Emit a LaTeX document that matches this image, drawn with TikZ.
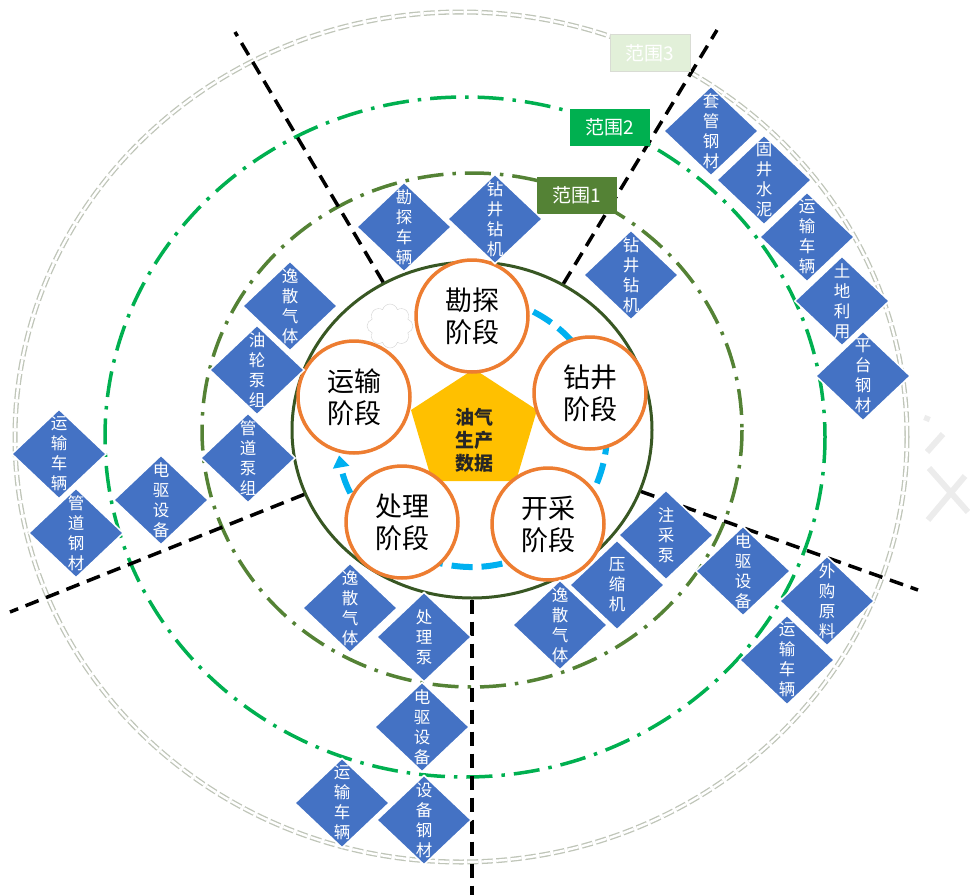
\documentclass[tikz,border=0pt]{standalone}
\usepackage{fontspec}
\setmainfont{Noto Sans CJK SC}
\usepackage{tikz}
\usetikzlibrary{shapes.geometric,shapes.symbols,arrows.meta}
\definecolor{boxblue}{HTML}{4472C4}
\definecolor{stageorange}{HTML}{ED7D31}
\definecolor{coregreen}{HTML}{385723}
\definecolor{rangeone}{HTML}{548235}
\definecolor{rangetwo}{HTML}{00B050}
\definecolor{rangethree}{HTML}{BFC5B8}
\definecolor{rangethreefill}{HTML}{E2F0D9}
\definecolor{datagold}{HTML}{FFC000}
\definecolor{flowblue}{HTML}{00B0F0}

\begin{document}
\begin{tikzpicture}[x=1pt, y=-1pt, >=Latex,
    item/.style={diamond, draw=white, line width=1.5pt, fill=boxblue, minimum width=95pt, minimum height=90pt, inner sep=0pt, label={[itemtext]center:#1}},
    itemtext/.style={text=white, align=center, font=\fontsize{16.5}{20}\selectfont},
    stage/.style={circle, draw=stageorange, line width=3.5pt, fill=white, minimum size=112pt, inner sep=0pt, align=center, font=\fontsize{27}{32}\selectfont},
    rangetag/.style={fill=#1, text=white, minimum width=80pt, minimum height=37pt, inner sep=0pt, font=\fontsize{19}{20}\selectfont},
    sepline/.style={line width=3.5pt, dash pattern=on 14pt off 8pt},
    rangeline/.style={draw=#1, line width=3.5pt, dash pattern=on 26pt off 9pt on 3.5pt off 9pt}]

    \useasboundingbox (0,0) rectangle (970,895);

    \draw[rangethree, line width=1.3pt, double=white, double distance=2.4pt, dash pattern=on 11pt off 3.5pt] (461,437) ellipse [x radius=446, y radius=425];
    \draw[rangeline=rangetwo] (465,437) ellipse [x radius=360, y radius=340];
    \draw[rangeline=rangeone] (472,430) ellipse [x radius=270, y radius=257];

    \node[ellipse, draw=coregreen, line width=3pt, fill=white, minimum width=360pt, minimum height=336pt, inner sep=0pt] (core) at (472,430) {};

    \coordinate (cutA) at (235,32);
    \coordinate (cutB) at (717,30);
    \coordinate (cutC) at (918,590);
    \coordinate (cutD) at (472,895);
    \coordinate (cutE) at (10,612);
    \draw[sepline] (core.121) -- (cutA);
    \draw[sepline] (core.58) -- (cutB);
    \draw[sepline] (core.340) -- (cutC);
    \draw[sepline] (core.270) -- (cutD);
    \draw[sepline] (core.201) -- (cutE);

    \coordinate (flowstart) at ([shift={(63:135pt)}]472,432);
    \draw[flowblue, line width=6pt, dash pattern=on 21pt off 9pt, -{Triangle[length=12pt, width=16pt]}] (flowstart) arc[start angle=63, end angle=-170, radius=135pt];

    \node[cloud, cloud puffs=8, aspect=1, draw=gray!35, fill=white, minimum width=46pt, minimum height=44pt] (puff) at (390,326) {};

    \fill[datagold] (474,369) -- (537,410) -- (516,481) -- (432,481) -- (411,410) -- cycle;
    \node[font=\fontsize{19}{23}\selectfont\bfseries, align=center, text=black!85] (data) at (474,440) {油气\\生产\\数据};

    \node[stage] (explore) at (472,316) {勘探\\阶段};
    \node[stage] (drill) at (590,393) {钻井\\阶段};
    \node[stage] (produce) at (548,524) {开采\\阶段};
    \node[stage] (process) at (402,522) {处理\\阶段};
    \node[stage] (transport) at (354,397) {运输\\阶段};

    \node[rangetag=rangeone] (tagone) at (577,195) {范围1};
    \node[rangetag=rangetwo] (tagtwo) at (610,127) {范围2};
    \node[rangetag=rangethreefill, draw=rangethree!60, line width=0.8pt] (tagthree) at (650,53) {范围3};

    \node[item={勘\\探\\车\\辆}] (exveh) at (404,227) {};
    \node[item={钻\\井\\钻\\机}] (drrigA) at (495,219) {};
    \node[item={钻\\井\\钻\\机}] (drrigB) at (631,275) {};

    \node[item={套\\管\\钢\\材}] (casing) at (711,131) {};
    \node[item={固\\井\\水\\泥}] (cement) at (764,180) {};
    \node[item={运\\输\\车\\辆}] (drveh) at (807,237) {};
    \node[item={土\\地\\利\\用}] (land) at (842,301) {};
    \node[item={平\\台\\钢\\材}] (platform) at (863,376) {};

    \node[item={注\\采\\泵}] (injpump) at (666,535) {};
    \node[item={压\\缩\\机}] (compressor) at (617,585) {};
    \node[item={逸\\散\\气\\体}] (prgas) at (560,625) {};
    \node[item={电\\驱\\设\\备}] (prmotor) at (743,571) {};
    \node[item={外\\购\\原\\料}] (purchase) at (827,601) {};
    \node[item={运\\输\\车\\辆}] (prveh) at (787,660) {};

    \node[item={逸\\散\\气\\体}] (pcgas) at (350,608) {};
    \node[item={处\\理\\泵}] (pcpump) at (424,637) {};
    \node[item={电\\驱\\设\\备}] (pcmotor) at (422,727) {};
    \node[item={运\\输\\车\\辆}] (pcveh) at (342,803) {};
    \node[item={设\\备\\钢\\材}] (pcsteel) at (424,820) {};

    \node[item={逸\\散\\气\\体}] (trgas) at (290,306) {};
    \node[item={油\\轮\\泵\\组}] (tanker) at (257,370) {};
    \node[item={管\\道\\泵\\组}] (pipepump) at (248,458) {};
    \node[item={运\\输\\车\\辆}] (trveh) at (59,454) {};
    \node[item={管\\道\\钢\\材}] (pipesteel) at (76,533) {};
    \node[item={电\\驱\\设\\备}] (trmotor) at (161,500) {};

    \draw[gray!15, line width=6pt] (926,421) -- (928,416);
    \draw[gray!15, line width=6pt] (927,452) -- (943,434);
    \draw[gray!15, line width=6pt] (929,468) -- (968,512);
    \draw[gray!15, line width=6pt] (928,520) -- (965,476);
\end{tikzpicture}
\end{document}
